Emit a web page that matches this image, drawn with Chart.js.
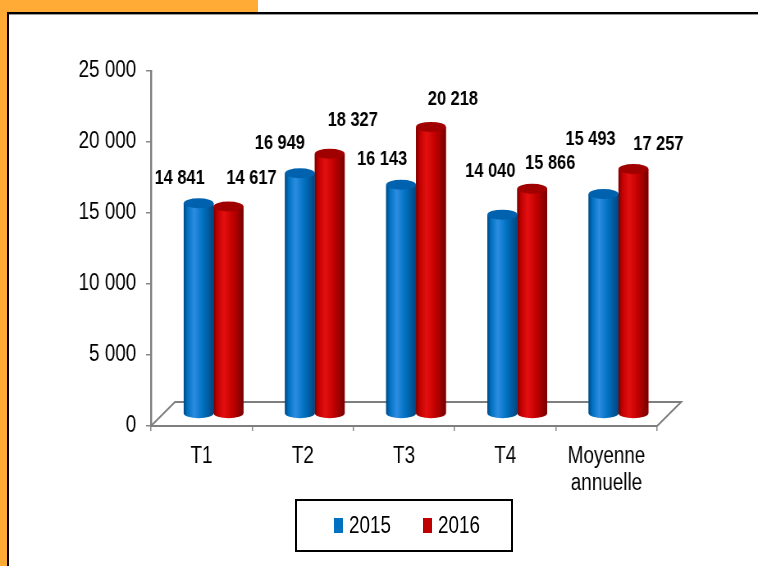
<!DOCTYPE html>
<html><head><meta charset="utf-8">
<script src="https://cdn.jsdelivr.net/npm/chart.js@4/dist/chart.umd.min.js"></script>
<style>
html,body{margin:0;padding:0;background:#fff;}
#wrap{position:relative;width:758px;height:566px;overflow:hidden;background:#fff;}
.orTop{position:absolute;left:0;top:0;width:258px;height:12px;background:#FFAB36;}
.orLeft{position:absolute;left:0;top:0;width:7px;height:566px;background:#FFAB36;}
.bTop{position:absolute;left:7px;top:12px;width:751px;height:2px;background:#000;}
.bTop2{position:absolute;left:9px;top:14px;width:749px;height:1px;background:#999;}
.bLeft{position:absolute;left:7px;top:12px;width:2px;height:554px;background:#000;}
#cv{position:absolute;left:0;top:0;width:924px;height:566px;transform-origin:0 0;}
#cv canvas{position:absolute;left:0;top:0;}
#legend{position:absolute;left:295px;top:499px;width:208px;height:49px;border:2px solid #000;display:flex;align-items:center;justify-content:center;padding-left:6px;box-sizing:content-box;
 font-family:"Liberation Sans",Arial,sans-serif;font-size:23px;color:#000;}
#legend .it{display:flex;align-items:center;}
#legend .it + .it{margin-left:32px;}
#legend .sw{width:9px;height:15px;margin-right:6px;}
#legend .tx{display:inline-block;width:42px;white-space:nowrap;}
#legend .tx span{display:inline-block;transform-origin:0 50%;}
</style></head>
<body>
<div id="wrap">
<div class="orTop"></div><div class="orLeft"></div>
<div class="bTop"></div><div class="bTop2"></div><div class="bLeft"></div>
<div id="cv"><canvas id="c" width="924" height="566"></canvas></div>
<div id="legend"></div>
</div>
<script>
// ---- data ----
const categories = ['T1', 'T2', 'T3', 'T4', ['Moyenne', 'annuelle']];
const seriesNames = ['2015', '2016'];
const values2015 = [14841, 16949, 16143, 14040, 15493];
const values2016 = [14617, 18327, 20218, 15866, 17257];
const yTickValues = [0, 5000, 10000, 15000, 20000, 25000];

// ---- style ----
const FONT = '"Liberation Sans",Arial,sans-serif';
const S = 758 / 924;          // horizontal narrowing (Arial Narrow look)
document.getElementById('cv').style.transform = 'scaleX(' + S + ')';
const palette = [
  {base:'#0070C0', light:'#2C8DE2', dark:'#00467F', top:'#0062AE'},
  {base:'#C00000', light:'#E41010', dark:'#760000', top:'#A00000'}
];
const labelNudge = [
  {dx:[-19,-20,-19,-12,-13], dy:[-25,-30,-25,-43,-55]},
  {dx:[23,23,22,18,25],      dy:[-28,-33,-27,-25,-24]}
];
const DEPTH = 24; // 3D floor depth (screen px)

function fmt(v){ return String(v).replace(/\B(?=(\d{3})+(?!\d))/g, ' '); }

// legend (HTML, built from series arrays)
const lg = document.getElementById('legend');
seriesNames.forEach((n,i)=>{
  const it = document.createElement('div'); it.className='it';
  const sw = document.createElement('div'); sw.className='sw'; sw.style.background = palette[i].base;
  const tx = document.createElement('span'); tx.className='tx';
  const inner = document.createElement('span'); inner.textContent = n; inner.style.transform = 'scaleX(' + S + ')';
  tx.appendChild(inner);
  it.appendChild(sw); it.appendChild(tx); lg.appendChild(it);
});

const threeD = {
  id:'threeD',
  beforeDatasetsDraw(chart){
    const {ctx, chartArea:a} = chart;
    const dx = DEPTH / S;
    ctx.save();
    ctx.strokeStyle = '#7f7f7f';
    ctx.lineWidth = 2;
    ctx.beginPath();
    ctx.moveTo(a.left, a.bottom);
    ctx.lineTo(a.left + dx, a.bottom - DEPTH);
    ctx.lineTo(a.right + dx, a.bottom - DEPTH);
    ctx.lineTo(a.right, a.bottom);
    ctx.stroke();
    ctx.restore();
    ctx.save();
    ctx.translate(dx/2, -DEPTH/2);
  },
  afterDatasetsDraw(chart){
    const {ctx} = chart;
    chart.data.datasets.forEach((ds, di)=>{
      const meta = chart.getDatasetMeta(di);
      const c = palette[di];
      meta.data.forEach((el, i)=>{
        const p = el.getProps(['x','y','base','width'], true);
        const rx = p.width/2, ry = 5;
        const l = p.x - rx, r = p.x + rx;
        const g = ctx.createLinearGradient(l, 0, r, 0);
        g.addColorStop(0, c.dark);
        g.addColorStop(0.12, c.base);
        g.addColorStop(0.35, c.light);
        g.addColorStop(0.65, c.base);
        g.addColorStop(1, c.dark);
        ctx.fillStyle = g;
        ctx.beginPath();
        ctx.moveTo(l, p.y);
        ctx.lineTo(l, p.base);
        ctx.ellipse(p.x, p.base, rx, ry, 0, Math.PI, 0, true);
        ctx.lineTo(r, p.y);
        ctx.closePath();
        ctx.fill();
        ctx.fillStyle = c.top;
        ctx.beginPath();
        ctx.ellipse(p.x, p.y, rx, ry, 0, 0, Math.PI*2);
        ctx.fill();
        // value label
        ctx.fillStyle = '#000';
        ctx.font = 'bold 20px ' + FONT;
        ctx.textAlign = 'center';
        ctx.textBaseline = 'middle';
        ctx.fillText(fmt(ds.data[i]), p.x + labelNudge[di].dx[i] / S, p.y + labelNudge[di].dy[i]);
      });
    });
    ctx.restore();
  }
};

new Chart(document.getElementById('c'), {
  type:'bar',
  data:{
    labels: categories,
    datasets:[
      {label: seriesNames[0], data: values2015, backgroundColor: palette[0].base, categoryPercentage:0.59, barPercentage:1.0},
      {label: seriesNames[1], data: values2016, backgroundColor: palette[1].base, categoryPercentage:0.59, barPercentage:1.0}
    ]
  },
  options:{
    responsive:false,
    animation:false,
    layout:{padding:{left:0, right:123, top:71, bottom:70}},
    plugins:{legend:{display:false}, tooltip:{enabled:false}},
    scales:{
      x:{
        offset:true,
        grid:{display:true, drawOnChartArea:false, offset:true, tickLength:5, color:'#888', lineWidth:1.5},
        border:{color:'#7f7f7f', width:2},
        ticks:{font:{family:FONT, size:23, lineHeight:1.17}, color:'#000', padding:12, maxRotation:0, autoSkip:false},
        afterFit(s){ s.height = 70; }
      },
      y:{
        min:0, max:25000,
        afterBuildTicks(s){ s.ticks = yTickValues.map(v=>({value:v})); },
        grid:{display:true, drawOnChartArea:false, tickLength:6, color:'#888', lineWidth:1.5},
        border:{color:'#7f7f7f', width:2.4},
        ticks:{font:{family:FONT, size:23}, color:'#000', padding:12, callback:v=>fmt(v)},
        afterFit(s){ s.width = 184; }
      }
    }
  },
  plugins:[threeD]
});
</script>
</body></html>
